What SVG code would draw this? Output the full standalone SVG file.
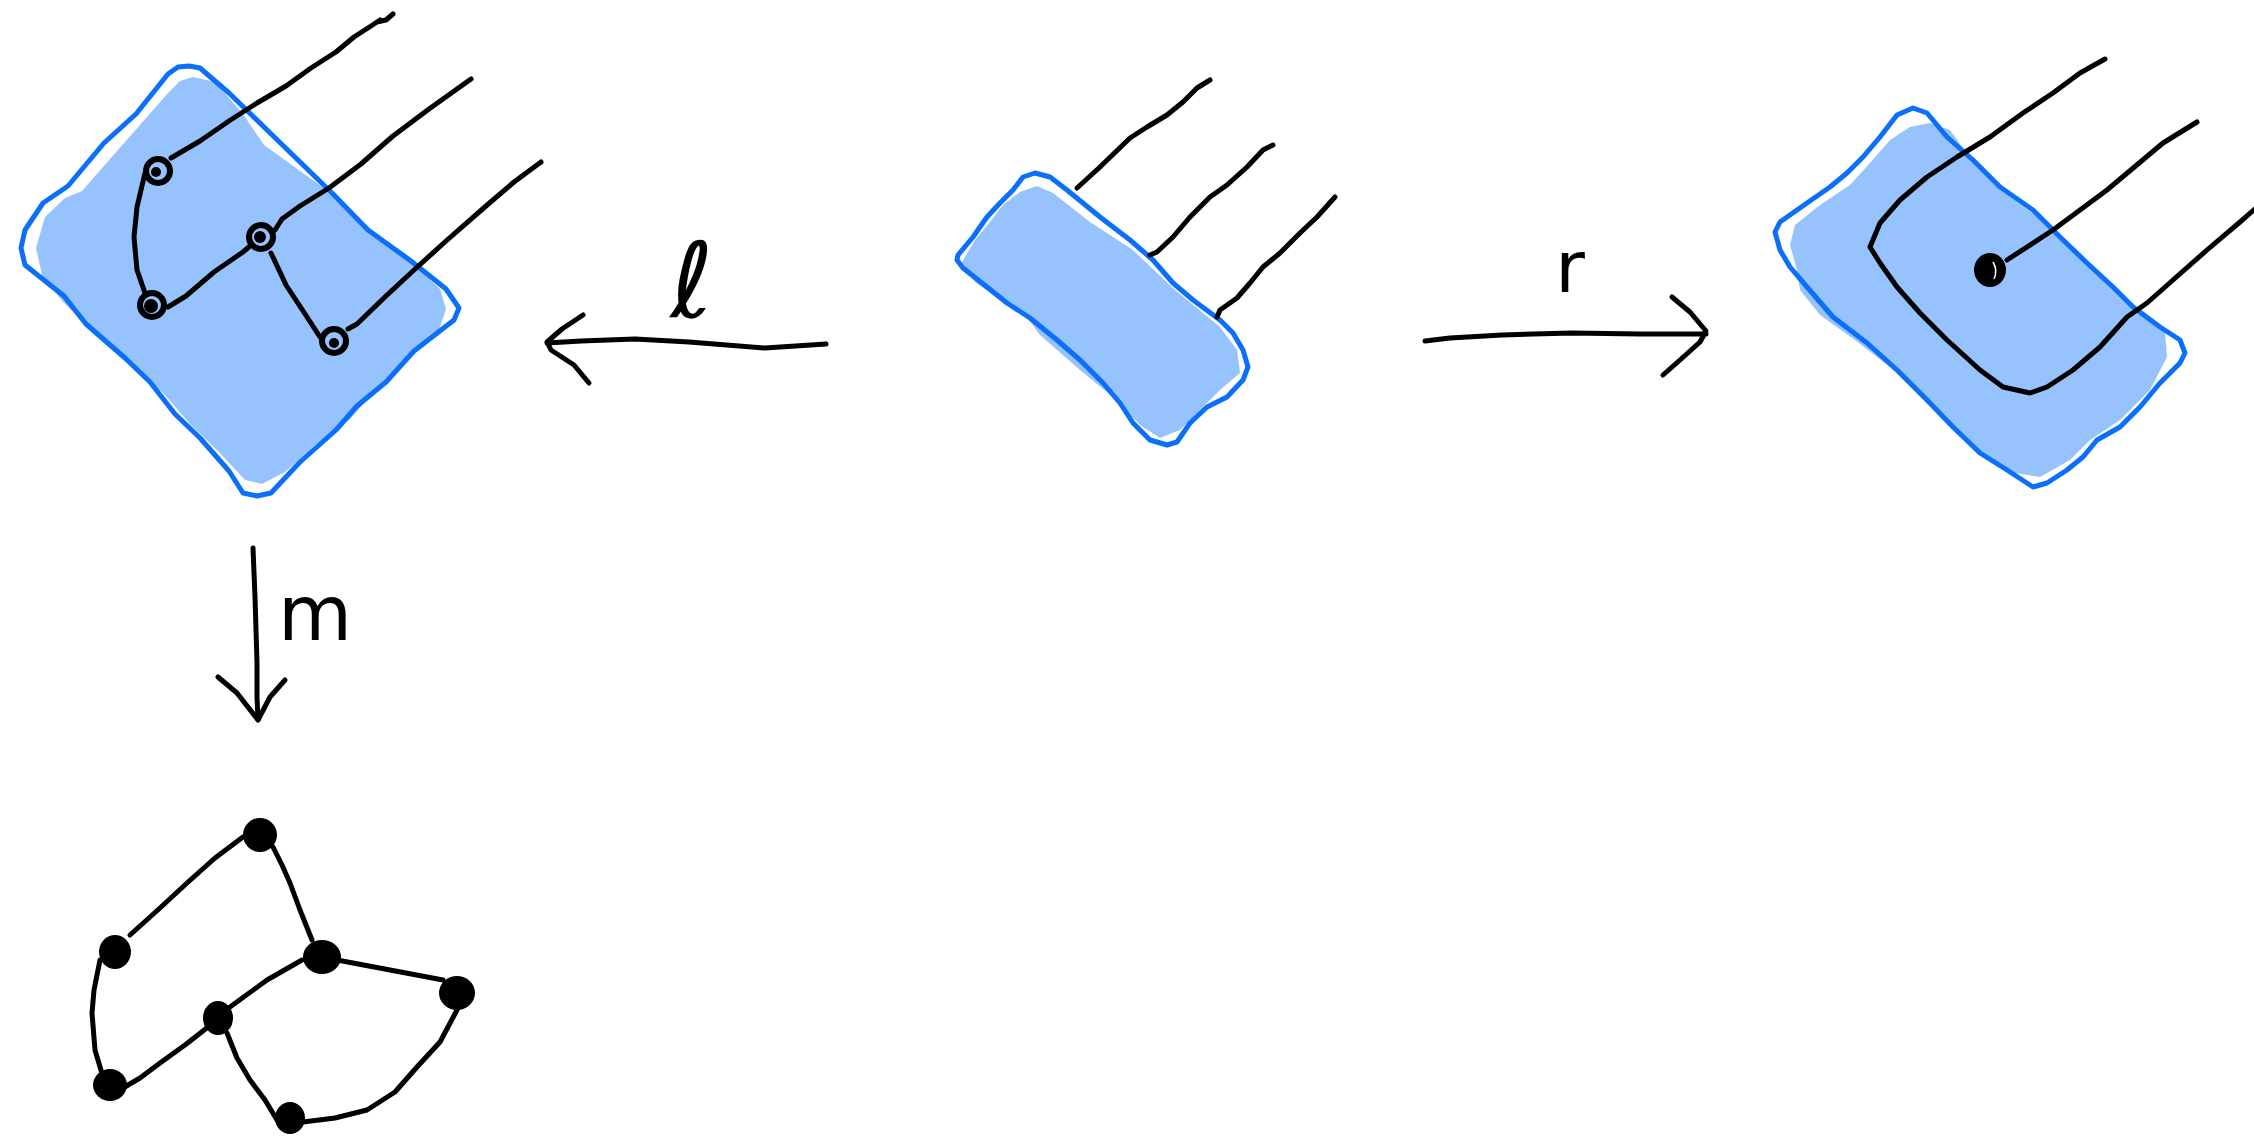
<svg xmlns="http://www.w3.org/2000/svg" width="2254" height="1136" viewBox="0 0 2254 1136">
<style>
.bg{fill:#ffffff}
.fill{fill:#96c2fd;stroke:none}
.outline{fill:none;stroke:#0b6ffa;stroke-width:5;stroke-linejoin:round;stroke-linecap:round}
.ink{fill:none;stroke:#000;stroke-width:5;stroke-linejoin:round;stroke-linecap:round}
.ring{fill:none;stroke:#000;stroke-width:6}
.dot{fill:#000}
.hl{fill:none;stroke:#fff;stroke-width:1.5}
.lbl{font-family:"DejaVu Sans","Liberation Sans",sans-serif;fill:#000;text-anchor:middle}
</style>
<rect class="bg" x="0" y="0" width="2254" height="1136"/>

<g id="node-left">
<polygon class="fill" points="193,77 215,82 243,114 264,145 321,186 368,231 411,262 440,289 446,309 438,333 405,359 375,390 350,419 315,445 285,472 262,484 245,480 220,453 190,424 165,395 130,362 95,333 62,301 42,275 36,248 45,217 65,198 82,191 110,159 140,125 168,93 180,81"/>
<polygon class="outline" points="189,66 200,68 229,93 264,127 300,162 332,193 368,230 411,261 446,289 459,308 454,320 414,351 386,382 357,406 336,430 300,462 271,493 257,496 243,493 229,471 200,438 175,414 150,382 125,358 86,324 64,296 25,265 21,248 25,230 43,203 68,186 104,143 136,114 168,74 178,67"/>
<polyline class="ink" points="145,173 137,207 134,237 137,270 145,293"/>
<polyline class="ink" points="168,307 186,296 214,272 243,252 250,246"/>
<polyline class="ink" points="271,253 286,285 307,317 320,337"/>
<polyline class="ink" points="171,158 200,141 229,121 257,103 286,86 311,68 336,52 354,37 371,26 380,20 377,22 386,20 393,14"/>
<polyline class="ink" points="275,230 282,219 300,206 329,188 361,164 393,136 429,109 471,79"/>
<polyline class="ink" points="348,329 357,324 386,296 414,270 446,241 486,206 514,182 541,162"/>
<circle class="ring" cx="158" cy="171" r="12"/><circle class="dot" cx="156" cy="172" r="5"/>
<circle class="ring" cx="152" cy="305" r="12"/><circle class="dot" cx="151" cy="306" r="7"/>
<circle class="ring" cx="261" cy="237" r="12"/><circle class="dot" cx="260" cy="237" r="6"/>
<circle class="ring" cx="334" cy="341" r="12"/><circle class="dot" cx="334" cy="343" r="5"/>
</g>

<g id="node-middle">
<polygon class="fill" points="1037,186 1053,193 1090,222 1133,250 1175,290 1220,327 1237,350 1240,373 1220,390 1195,415 1180,430 1160,438 1140,425 1113,397 1080,370 1040,335 1027,317 1000,300 975,282 962,262 975,240 990,222 1003,205 1020,192"/>
<polygon class="outline" points="1035,173 1050,177 1067,190 1100,217 1130,240 1153,260 1173,283 1193,300 1220,320 1233,333 1243,350 1248,367 1243,380 1227,397 1207,407 1190,423 1177,442 1167,445 1150,440 1133,423 1120,403 1103,383 1080,360 1057,340 1030,318 1007,303 987,287 963,268 957,260 958,255 973,237 987,217 1000,203 1013,190 1023,177"/>
<polyline class="ink" points="1077,188 1100,167 1130,138 1147,127 1167,115 1183,102 1197,88 1210,80"/>
<polyline class="ink" points="1150,255 1157,252 1173,237 1190,217 1210,197 1227,185 1247,167 1263,150 1273,145"/>
<polyline class="ink" points="1217,317 1220,310 1237,298 1250,283 1263,267 1280,253 1300,233 1317,217 1335,197"/>
</g>

<g id="node-right">
<polygon class="fill" points="1930,123 1950,130 1975,165 2000,190 2035,215 2060,240 2090,268 2115,290 2140,310 2165,333 2167,357 2150,390 2120,420 2090,440 2070,460 2040,477 2010,472 1980,452 1950,425 1920,395 1890,367 1855,340 1820,315 1800,290 1797,270 1790,245 1795,225 1820,205 1850,185 1870,163 1890,140 1910,127"/>
<polygon class="outline" points="1913,108 1927,113 1947,137 1973,160 2000,187 2033,210 2060,237 2087,263 2113,287 2133,307 2160,327 2180,340 2185,353 2180,363 2160,383 2140,407 2120,427 2097,440 2083,457 2067,470 2047,483 2033,487 2007,470 1980,453 1953,427 1927,400 1897,370 1867,343 1833,317 1807,287 1790,267 1780,250 1775,232 1780,222 1807,203 1830,187 1847,173 1863,157 1880,137 1897,115"/>
<polyline class="ink" points="2105,59 2080,73 2053,93 2023,113 1990,137 1957,157 1927,177 1900,200 1880,223 1870,247 1880,263 1897,287 1920,313 1947,340 1980,370 2003,387 2030,393 2047,387 2073,370 2100,347 2127,317 2147,303 2173,280 2207,250 2240,222 2256,208"/>
<polyline class="ink" points="2007,260 2053,230 2107,190 2163,143 2197,122"/>
<ellipse class="dot" cx="1990" cy="270" rx="16" ry="17"/>
<path class="hl" d="M1993,262 Q1998,270 1994,279"/>
</g>

<g id="node-bottom">
<polyline class="ink" points="130,935 160,908 187,883 215,858 243,837"/>
<polyline class="ink" points="273,847 282,865 290,883 300,910 312,940"/>
<polyline class="ink" points="337,960 390,970 443,980"/>
<polyline class="ink" points="302,960 267,980 230,1007"/>
<polyline class="ink" points="100,960 94,990 92,1013 95,1050 103,1077"/>
<polyline class="ink" points="123,1088 140,1078 160,1063 185,1045 208,1027"/>
<polyline class="ink" points="227,1033 237,1058 250,1080 265,1100 277,1120"/>
<polyline class="ink" points="303,1122 335,1118 367,1110 395,1092 417,1067 440,1042 457,1010"/>
<ellipse class="dot" cx="260" cy="835" rx="17" ry="17"/>
<ellipse class="dot" cx="115" cy="952" rx="16" ry="17"/>
<ellipse class="dot" cx="322" cy="957" rx="19" ry="17"/>
<ellipse class="dot" cx="457" cy="993" rx="18" ry="17"/>
<ellipse class="dot" cx="218" cy="1018" rx="15" ry="17"/>
<ellipse class="dot" cx="110" cy="1085" rx="17" ry="16"/>
<ellipse class="dot" cx="290" cy="1118" rx="15" ry="16"/>
</g>

<g id="connectors">
<g id="arrow-l">
<polyline class="ink" points="826,344 765,348 689,342 635,339 581,341 547,343"/>
<polyline class="ink" points="583,315 562,329 547,342 551,350 574,365 589,383"/>
</g>
<g id="arrow-r">
<polyline class="ink" points="1425,341 1450,338 1502,335 1572,333 1640,334 1706,334"/>
<polyline class="ink" points="1672,297 1690,312 1706,331 1700,342 1680,360 1663,375"/>
</g>
<g id="arrow-m">
<polyline class="ink" points="253,548 255,597 257,663 257,697 258,720"/>
<polyline class="ink" points="218,677 237,693 258,720 270,697 285,680"/>
</g>
</g>

<g id="labels">
<text class="lbl" x="692" y="317" font-size="104">ℓ</text>
<text class="lbl" x="1570" y="292" font-size="72">r</text>
<text class="lbl" x="315" y="640" font-size="76">m</text>
</g>
</svg>
